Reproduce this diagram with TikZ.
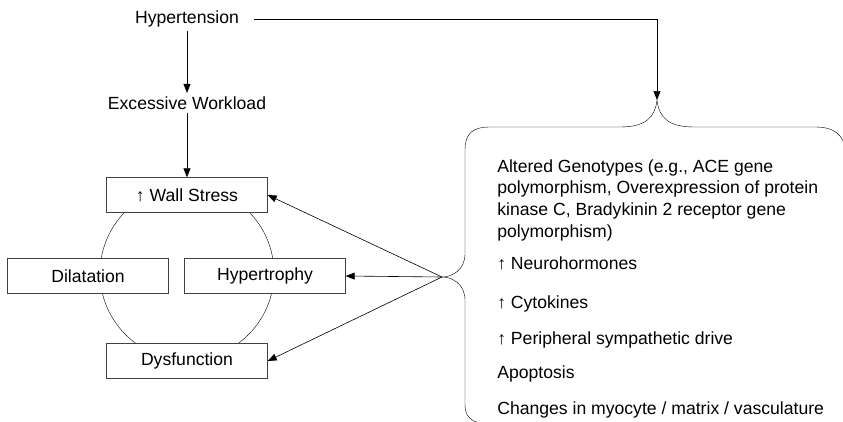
\documentclass[tikz,border=0pt]{standalone}
\usepackage{fontspec}
\setmainfont{Liberation Sans}
\usetikzlibrary{arrows.meta,positioning}

\begin{document}
\begin{tikzpicture}[x=1pt, y=-1pt, >={Triangle[length=9pt,width=7pt]}, semithick,
  font=\fontsize{17.6}{21.7}\selectfont]
\tikzstyle{box}=[draw=black!75, thin, fill=white, minimum width=161pt, minimum height=35pt, inner sep=0pt]
\tikzstyle{item}=[anchor=base west, inner sep=0pt]
\useasboundingbox (0,0) rectangle (843,421);
% cycle behind the boxes
\draw[thin] (187,273) circle (87);
\node (hyp)  at (187,19)  {Hypertension};
\node (work) at (187,103) {Excessive Workload};
\node[box] (wall)  at (187,195) {↑ Wall Stress};
\node[box] (dil)   at (88,276)  {Dilatation};
\node[box] (hyper) at (265,276) {Hypertrophy};
\node[box] (dys)   at (187,361) {Dysfunction};
\coordinate (gtip) at (657,100);
\coordinate (btip) at (442,277);
% factors
\node[anchor=north west, inner sep=0pt, align=left] (gen) at (497,159)
  {Altered Genotypes (e.g., ACE gene\\polymorphism, Overexpression of protein\\kinase C, Bradykinin 2 receptor gene\\polymorphism)};
\node[item] (neuro) at (497,269) {↑ Neurohormones};
\node[item] (cyto)  at (497,308) {↑ Cytokines};
\node[item] (symp)  at (497,344) {↑ Peripheral sympathetic drive};
\node[item] (apop)  at (497,378) {Apoptosis};
\node[item] (myo)   at (497,414) {Changes in myocyte / matrix / vasculature};
% brace
\draw[thin] (480,423) .. controls (470,421) and (465,415) .. (465,405) -- (465,300)
  .. controls (465,284) and (452,277) .. (btip)
  .. controls (452,277) and (465,270) .. (465,254) -- (465,150)
  .. controls (465,134) and (472,127) .. (490,127) -- (620,127)
  .. controls (645,127) and (655,118) .. (gtip)
  .. controls (659,118) and (669,127) .. (694,127) -- (815,127)
  .. controls (835,127) and (843,135) .. (846,150);
% arrows
\draw[->] (hyp) -- (work);
\draw[->] (work) -- (wall);
\draw[->] ([xshift=12pt]hyp.east) -| (gtip);
\draw[->] (btip) -- (wall.east);
\draw[->] (btip) -- (hyper.east);
\draw[->] (btip) -- (dys.east);
\end{tikzpicture}
\end{document}
